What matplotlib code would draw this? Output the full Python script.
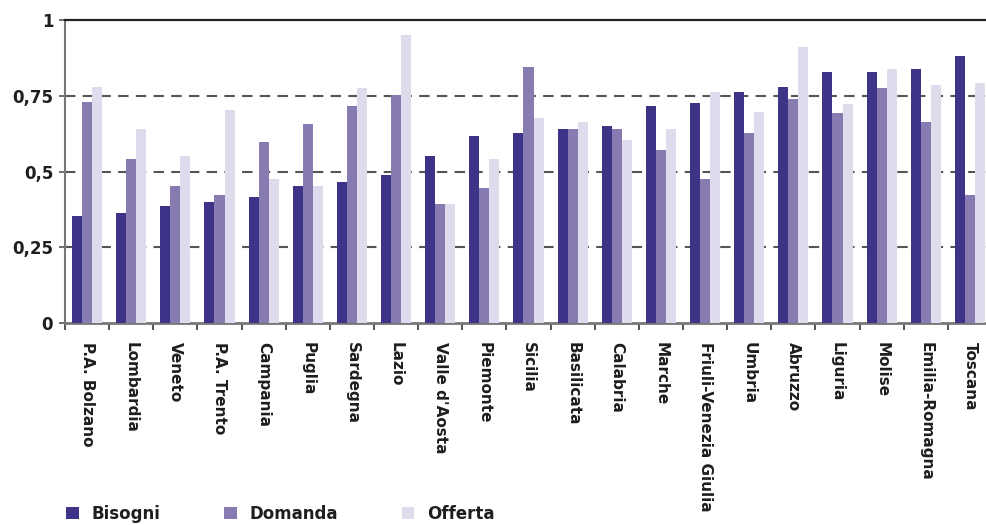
import numpy as np
import matplotlib
matplotlib.use('Agg')
import matplotlib.pyplot as plt
from matplotlib.ticker import FixedLocator

regioni = ['P.A. Bolzano', 'Lombardia', 'Veneto', 'P.A. Trento', 'Campania', 'Puglia',
           'Sardegna', 'Lazio', "Valle d'Aosta", 'Piemonte', 'Sicilia', 'Basilicata',
           'Calabria', 'Marche', 'Friuli-Venezia Giulia', 'Umbria', 'Abruzzo', 'Liguria',
           'Molise', 'Emilia-Romagna', 'Toscana']
bisogni = [0.352, 0.362, 0.385, 0.398, 0.415, 0.451, 0.464, 0.487, 0.550, 0.616, 0.626,
           0.639, 0.649, 0.715, 0.725, 0.761, 0.778, 0.827, 0.827, 0.837, 0.880]
domanda = [0.731, 0.540, 0.451, 0.421, 0.596, 0.656, 0.715, 0.752, 0.392, 0.445, 0.844,
           0.639, 0.639, 0.570, 0.474, 0.626, 0.738, 0.692, 0.775, 0.662, 0.421]
offerta = [0.778, 0.639, 0.550, 0.702, 0.474, 0.451, 0.775, 0.950, 0.392, 0.540, 0.676,
           0.662, 0.603, 0.639, 0.761, 0.698, 0.910, 0.722, 0.837, 0.784, 0.791]
y_ticks = [0, 0.25, 0.5, 0.75, 1]
y_labels = ['0', '0,25', '0,5', '0,75', '1']

c_bis = '#3d3487'
c_dom = '#877bb2'
c_off = '#dedbec'
txt = '#1e1e1e'

plt.rcParams['font.family'] = 'DejaVu Sans'
plt.rcParams['font.weight'] = 'bold'

fig = plt.figure(figsize=(9.87, 5.25), dpi=100)
ax = fig.add_axes([65 / 987, 202 / 525, 927 / 987, 303 / 525])

x = np.arange(len(regioni))
w = 0.227
b1 = ax.bar(x - w, bisogni, w, color=c_bis, label='Bisogni', zorder=3)
b2 = ax.bar(x, domanda, w, color=c_dom, label='Domanda', zorder=3)
b3 = ax.bar(x + w, offerta, w, color=c_off, label='Offerta', zorder=3)

ax.set_xlim(-0.5, len(regioni) - 0.5)
ax.set_ylim(0, 1)

# dashed grid
for v in [0.25, 0.5, 0.75]:
    ax.axhline(v, color='#555555', lw=1.5, ls=(0, (5, 3.5)), zorder=1)

ax.spines['right'].set_visible(False)
ax.spines['top'].set_color('#222222')
ax.spines['top'].set_linewidth(1.6)
ax.spines['left'].set_color('#777777')
ax.spines['left'].set_linewidth(1.5)
ax.spines['bottom'].set_color('#777777')
ax.spines['bottom'].set_linewidth(2)

ax.set_yticks(y_ticks)
ax.set_yticklabels(y_labels, fontsize=12, fontweight='bold', color=txt)
ax.tick_params(axis='y', length=4.5, width=1.2, color='#555555', pad=4)

ax.set_xticks(x)
ax.set_xticklabels(regioni, rotation=270, fontsize=11, fontweight='bold', color=txt,
                   va='top', ha='center')
ax.tick_params(axis='x', which='major', length=0, pad=14)
ax.xaxis.set_minor_locator(FixedLocator(np.arange(-0.5, len(regioni), 1.0)))
ax.tick_params(axis='x', which='minor', length=5, width=1.3, color='#444444')

leg = fig.legend(handles=[b1, b2, b3], loc='upper left', bbox_to_anchor=(51 / 987, 1 - 490 / 525),
                 ncol=3, frameon=False, handlelength=0.75, handleheight=0.75,
                 handletextpad=0.8, columnspacing=3.8, prop={'size': 12, 'weight': 'bold'})
for t in leg.get_texts():
    t.set_color(txt)

fig.savefig('out.png', dpi=100)
